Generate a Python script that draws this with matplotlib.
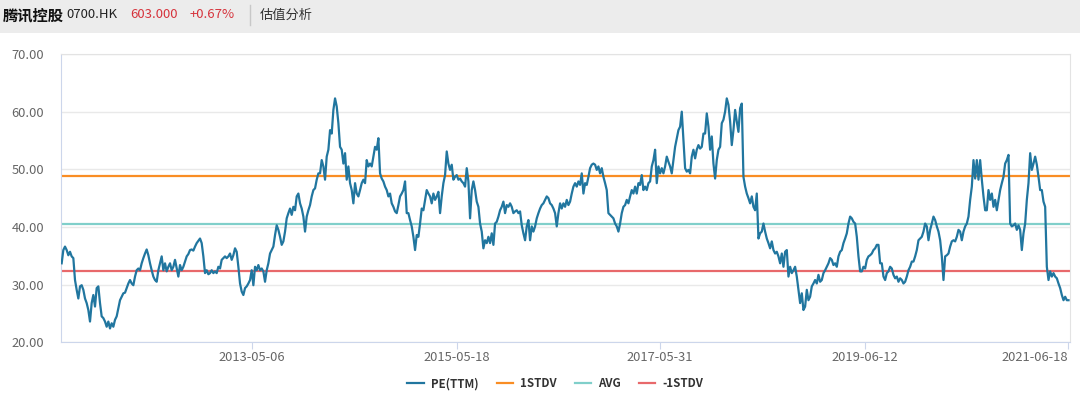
import matplotlib
matplotlib.use("Agg")
import matplotlib.pyplot as plt
from matplotlib.patches import Rectangle
from matplotlib.lines import Line2D

plt.rcParams["font.family"] = ["Noto Sans CJK SC", "DejaVu Sans"]

# PE(TTM), left to right (trading-day category axis)
pe_ttm = [
    # 2011 H2 - 2012
    33.7, 36.0, 36.6, 36.0, 35.1, 35.7, 34.9, 34.6, 30.8, 29.1, 27.6, 29.7, 29.9, 29.1, 27.6, 26.8,
    25.6, 23.6, 26.8, 28.2, 26.2, 29.4, 29.7, 26.8, 24.5, 24.2, 23.6, 22.7, 23.6, 22.4, 23.3, 22.7,
    23.9, 24.5, 25.9, 27.3, 27.9, 28.5, 28.6, 29.4, 30.2, 30.8, 30.2, 29.9, 31.4, 32.5, 32.8, 32.5,
    33.7, 34.6, 35.4, 36.1, 35.1, 33.7, 32.5, 31.4, 30.8, 30.5, 32.5, 33.7, 34.9, 32.5, 33.7, 32.3,
    33.1, 33.7, 32.5, 33.1, 34.3, 32.8, 31.4, 33.4, 32.5, 33.1, 34.0, 34.9, 35.3, 36.0, 36.1, 35.9,
    36.6, 37.2, 37.6, 38.0, 37.2, 34.9, 32.0, 32.5, 31.8,
    # 2013 - 2014
    32.0, 32.5, 32.0, 32.3, 32.0, 33.1, 32.8, 34.3, 34.6, 34.9, 34.6, 34.9, 35.4, 34.3, 35.1, 36.3,
    35.7, 33.1, 30.2, 28.8, 28.2, 29.4, 29.7, 30.2, 30.8, 32.5, 29.9, 33.1, 32.5, 33.4, 32.5, 32.8,
    32.3, 30.5, 32.5, 33.7, 35.4, 36.0, 36.6, 38.6, 40.3, 39.5, 38.3, 36.9, 37.5, 39.2, 41.5, 42.4,
    43.2, 42.1, 43.5, 42.9, 45.3, 45.8, 44.1, 43.2, 41.8, 39.2, 41.8, 42.9, 43.8, 45.3, 46.4, 46.7,
    48.2, 49.3, 49.3, 51.6, 50.5, 48.2, 52.2, 53.4, 56.8, 56.2, 60.3, 62.3, 60.9, 58.0, 53.9, 53.4,
    51.0, 52.8, 48.2, 50.5, 47.6,
    # 2014 - 2016
    46.4, 44.1, 47.6, 45.8, 45.3, 46.4, 47.6, 48.2, 47.6, 51.6, 50.5, 51.0, 50.5, 52.2, 53.9, 53.4,
    55.4, 49.3, 48.4, 47.9, 47.0, 46.4, 45.3, 45.8, 44.1, 43.5, 42.7, 42.4, 43.8, 45.3, 45.8, 46.4,
    47.9, 42.4, 42.4, 41.2, 40.1, 38.3, 36.0, 38.6, 38.3, 40.6, 43.2, 42.9, 44.7, 46.4, 45.8, 45.3,
    44.1, 45.8, 44.7, 45.3, 46.1, 42.4, 45.3, 47.6, 49.0, 53.1, 51.0, 49.9, 50.8, 48.2, 48.7, 49.0,
    48.2, 48.4, 47.9, 47.6, 47.0, 50.2, 47.9, 41.5, 46.4, 47.9, 46.4, 44.4, 43.5, 40.6, 39.2, 36.3,
    37.7, 37.2, 38.3, 37.2, 38.9, 36.9, 40.6,
    # 2016 - 2017
    40.9, 41.8, 42.9, 43.5, 44.4, 42.4, 43.8, 43.5, 44.1, 43.5, 42.4, 42.7, 42.9, 42.4, 42.7, 40.3,
    38.9, 37.7, 40.1, 41.2, 37.7, 40.1, 39.2, 40.1, 41.5, 42.4, 43.2, 43.8, 44.1, 44.7, 45.3, 45.0,
    44.1, 43.8, 43.2, 42.4, 40.1, 42.4, 44.1, 43.2, 44.1, 43.5, 44.7, 43.8, 44.4, 45.8, 47.0, 47.6,
    47.0, 47.9, 47.3, 49.3, 45.8, 47.6, 47.3, 48.7, 50.2, 50.8, 51.0, 50.8, 49.9, 50.5, 49.3, 50.2,
    48.7, 47.6, 46.4, 42.4, 42.1, 41.8, 41.5, 40.6, 40.1, 39.2, 40.6, 42.4, 43.5, 43.8, 44.7, 44.1,
    45.3, 46.4, 45.8, 47.0, 45.8, 47.6, 47.3,
    # 2017 - 2019
    49.0, 46.4, 47.0, 46.4, 47.6, 47.9, 50.5, 51.6, 53.4, 47.6, 50.5, 49.3, 50.2, 49.3, 50.5, 52.2,
    51.3, 50.5, 49.3, 51.6, 53.9, 55.4, 56.8, 57.4, 60.0, 55.1, 50.2, 49.6, 49.9, 49.3, 52.2, 53.4,
    51.9, 53.4, 54.2, 53.6, 53.9, 56.2, 56.2, 59.7, 57.4, 53.4, 55.7, 51.0, 48.4, 51.6, 53.4, 53.9,
    58.0, 58.6, 60.0, 62.3, 61.2, 58.3, 54.2, 56.8, 60.3, 58.3, 56.5, 60.6, 61.4, 48.7, 47.0, 45.8,
    45.0, 44.1, 45.3, 43.5, 42.9, 45.8, 38.0, 38.9, 39.2, 40.6, 39.2, 38.0, 37.2, 36.3, 37.5, 36.0,
    35.4, 35.7, 34.9, 33.7, 35.4, 33.1, 35.7,
    # 2019 - 2020
    36.0, 31.4, 33.1, 32.0, 32.5, 33.1, 31.4, 29.1, 26.8, 28.5, 25.6, 26.2, 29.1, 27.3, 27.9, 29.7,
    30.2, 30.8, 30.2, 31.7, 30.5, 30.8, 32.0, 32.5, 33.1, 33.7, 34.6, 34.3, 33.4, 33.7, 33.1, 34.9,
    35.7, 36.0, 37.2, 38.0, 38.9, 40.6, 41.8, 41.5, 40.9, 40.6, 38.3, 34.9, 32.3, 32.3, 33.1, 32.8,
    34.3, 34.9, 35.1, 35.4, 36.0, 36.3, 36.9, 36.9, 33.7, 33.7, 31.4, 30.8, 32.0, 32.3, 33.1, 32.8,
    31.7, 31.1, 31.4, 30.5, 31.1, 30.8, 30.2, 30.5, 31.4, 32.5, 33.1, 34.0, 34.0, 34.9, 36.0, 37.7,
    38.0, 38.3, 39.2, 40.6, 40.1, 37.7, 39.5,
    # 2020 - 2021
    40.6, 41.8, 41.2, 40.1, 39.2, 37.7, 34.9, 30.8, 34.9, 35.1, 35.4, 36.6, 37.5, 37.7, 37.5, 38.3,
    39.5, 39.2, 37.7, 39.2, 40.1, 40.6, 41.8, 44.7, 47.0, 51.6, 48.4, 51.6, 48.2, 51.6, 48.2, 45.3,
    42.9, 42.9, 46.4, 44.7, 45.8, 43.5, 44.7, 42.9, 44.7, 46.4, 47.6, 48.7, 51.0, 51.6, 52.5, 40.6,
    40.1, 40.3, 40.6, 39.5, 40.3, 39.5, 36.0, 38.9, 40.6, 44.7, 47.6, 52.8, 49.9, 51.0, 52.2, 50.8,
    48.7, 46.4, 46.4, 44.4, 43.5, 33.1, 30.8, 32.3, 31.4, 32.0, 31.4, 31.1, 30.2, 29.4, 28.2, 27.3,
    27.9, 27.3, 27.3,
]

std_up = 48.8
avg = 40.6
std_down = 32.4

tick_labels = ["2013-05-06", "2015-05-18", "2017-05-31", "2019-06-12", "2021-06-18"]
tick_idx = [114, 237, 359, 482, 604]

W, H = 1080, 397
fig = plt.figure(figsize=(W / 100, H / 100), dpi=100)
fig.patch.set_facecolor("white")

# header bar
fig.patches.append(Rectangle((0, 1 - 33 / H), 1, 33 / H, transform=fig.transFigure,
                             facecolor="#ececec", edgecolor="none", zorder=0))
ty = 1 - 15 / H
fig.text(3 / W, ty, "腾讯控股", fontsize=11, fontweight="bold", color="#111111", va="center")
fig.text(66 / W, ty, "0700.HK", fontsize=9.5, color="#222222", va="center")
fig.text(130 / W, ty, "603.000", fontsize=9.5, color="#d6333c", va="center")
fig.text(190 / W, ty, "+0.67%", fontsize=9.5, color="#d6333c", va="center")
fig.add_artist(Line2D([250 / W, 250 / W], [1 - 5 / H, 1 - 25 / H], transform=fig.transFigure,
                      color="#c8c8c8", linewidth=1))
fig.text(260 / W, ty, "估值分析", fontsize=9.5, color="#333333", va="center")

ax = fig.add_axes([61 / W, 1 - 342.3 / H, (1069.5 - 61) / W, (342.3 - 54) / H])
x = list(range(len(pe_ttm)))
ax.plot(x, pe_ttm, color="#21769f", linewidth=1.6, zorder=3, label="PE(TTM)")
ax.axhline(std_up, color="#f98d24", linewidth=1.6, zorder=2, label="1STDV")
ax.axhline(avg, color="#80cfca", linewidth=1.6, zorder=2, label="AVG")
ax.axhline(std_down, color="#e8696b", linewidth=1.6, zorder=2, label="-1STDV")

ax.set_xlim(-0.4, len(pe_ttm) - 0.4)
ax.set_ylim(20, 70)
ax.set_yticks([20, 30, 40, 50, 60, 70])
ax.set_yticklabels([f"{v:.2f}" for v in [20, 30, 40, 50, 60, 70]])
ax.set_xticks(tick_idx)
ax.set_xticklabels(tick_labels)
ax.get_xticklabels()[-1].set_horizontalalignment("right")
ax.grid(axis="y", color="#e9e9e9", linewidth=1)
ax.set_axisbelow(True)

for s in ["top", "right"]:
    ax.spines[s].set_color("#e3e3e3")
for s in ["left", "bottom"]:
    ax.spines[s].set_color("#ccd6eb")
ax.tick_params(axis="y", length=0, labelsize=9.3, labelcolor="#666666", pad=12)
ax.tick_params(axis="x", length=5, color="#ccd6eb", labelsize=9.3, labelcolor="#666666", pad=1)

leg = ax.legend(loc="upper center", bbox_to_anchor=(0.49, -0.085), ncol=4, frameon=False,
                fontsize=8.3, handlelength=1.4, columnspacing=1.6, handletextpad=0.6)
for t in leg.get_texts():
    t.set_color("#333333")
    t.set_fontweight("bold")

fig.savefig("out.png", dpi=100)
